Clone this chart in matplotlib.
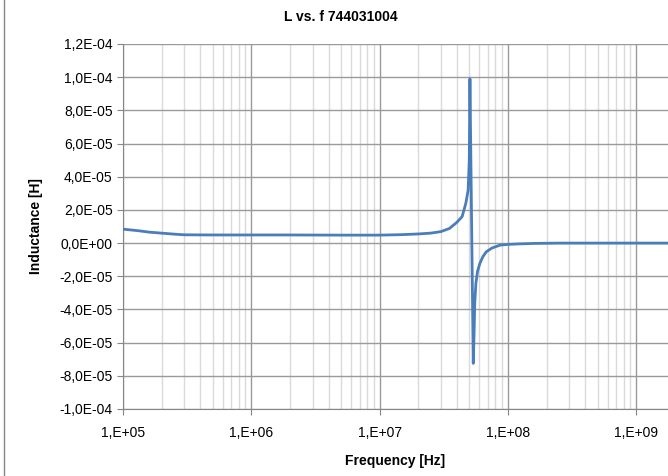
import matplotlib
matplotlib.use('Agg')
import matplotlib.pyplot as plt
from matplotlib.ticker import FuncFormatter, LogLocator, MultipleLocator
from matplotlib.lines import Line2D

plt.rcParams['font.family'] = ['Liberation Sans', 'DejaVu Sans']

# Frequency (Hz) and inductance (H)
freq = [1e5, 1.3e5, 1.6e5, 2e5, 2.5e5, 3e5, 5e5, 1e6, 2e6, 5e6, 1e7, 1.5e7,
        2e7, 2.5e7, 3e7, 3.5e7, 4e7, 4.4e7, 4.7e7, 4.9e7, 5.0e7, 5.06e7,
        5.37e7, 5.45e7, 5.52e7, 5.63e7, 5.8e7, 6.05e7, 6.4e7, 6.8e7, 7.5e7,
        8.7e7, 1e8, 1.2e8, 1.6e8, 2.5e8, 4e8, 1e9, 1.77e9]
induct_uH = [8.4, 7.5, 6.6, 6.0, 5.4, 5.0, 4.9, 4.9, 4.9, 4.8, 4.8, 5.1,
             5.5, 6.0, 6.9, 8.8, 12.5, 16.0, 24.0, 32.0, 50.0, 99.0,
             -72.5, -55.0, -36.0, -24.3, -17.0, -12.2, -8.0, -5.2, -3.0,
             -1.2, -0.8, -0.5, -0.2, 0.0, 0.0, 0.0, 0.0]
induct = [v * 1e-6 for v in induct_uH]

title = 'L vs. f 744031004'
xlabel = 'Frequency [Hz]'
ylabel = 'Inductance [H]'


def y_fmt(v, pos):
    if abs(v) < 1e-12:
        v = 0.0
    return f"{v:.1E}".replace('.', ',')


fig = plt.figure(figsize=(6.68, 4.76), dpi=100)
ax = fig.add_axes([123 / 668, 67 / 476, 545 / 668, 365 / 476])

ax.plot(freq, induct, color='#4A7EBB', linewidth=2.0, zorder=3)

ax.set_xscale('log')
ax.set_xlim(1e5, 1.77e9)
ax.set_ylim(-1e-4, 1.2e-4)

ax.xaxis.set_major_locator(LogLocator(base=10, numticks=10))
ax.xaxis.set_minor_locator(LogLocator(base=10, subs=range(2, 10), numticks=100))
ax.yaxis.set_major_locator(MultipleLocator(2e-5))

ax.xaxis.set_major_formatter(FuncFormatter(lambda v, p: f"{v:.0E}".replace('E', ',E')))
ax.yaxis.set_major_formatter(FuncFormatter(y_fmt))
ax.xaxis.set_minor_formatter(FuncFormatter(lambda v, p: ''))

ax.grid(True, which='major', axis='both', color='#9a9a9a', linewidth=1.0)
ax.grid(True, which='minor', axis='x', color='#dadada', linewidth=1.0)

for s in ['top', 'right']:
    ax.spines[s].set_visible(False)
for s in ['left', 'bottom']:
    ax.spines[s].set_color('#868686')

ax.tick_params(axis='both', which='major', colors='#868686', labelcolor='black',
               labelsize=10, length=4, direction='out')
ax.tick_params(axis='x', which='minor', length=0)
ax.tick_params(axis='x', pad=8)

ax.set_xlabel(xlabel, fontsize=10, fontweight='bold', labelpad=10)
ax.set_ylabel(ylabel, fontsize=10, fontweight='bold', labelpad=12)
fig.text(0.51, 0.965, title, ha='center', va='center', fontsize=10, fontweight='bold')

# chart area border on the left
fig.add_artist(Line2D([3.5 / 668, 3.5 / 668], [0, 1], color='#868686', linewidth=1.0))

fig.savefig('out.png', dpi=100)
